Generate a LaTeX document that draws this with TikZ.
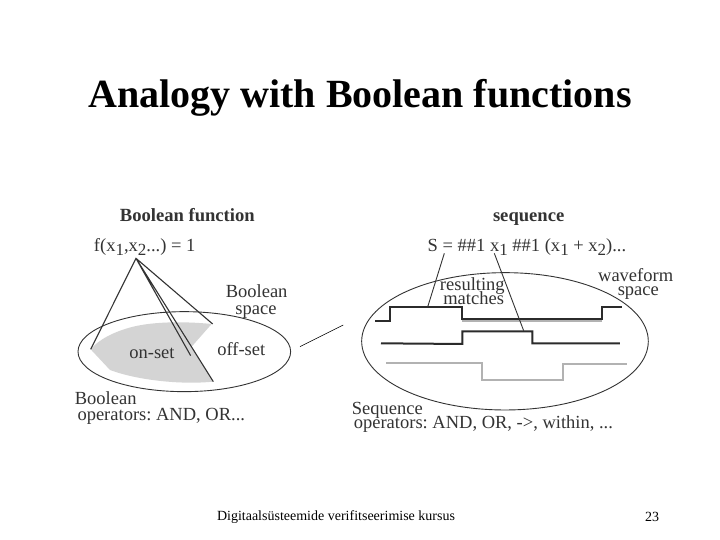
\documentclass[tikz,border=0pt]{standalone}
\usepackage{fontspec}
\setmainfont{Liberation Serif}
\definecolor{ink}{gray}{0.2}
\definecolor{setgrey}{gray}{0.83}
\definecolor{pale}{gray}{0.70}
\newcommand{\subsc}[1]{\raisebox{-4pt}{\fontsize{17}{17}\selectfont #1}}
\tikzset{
  dlabel/.style={inner sep=0pt,anchor=base,yshift=-1pt,text=ink,font=\frenchspacing\fontsize{18.5}{18.5}\selectfont},
  dleft/.style={dlabel,anchor=base west},
  dhead/.style={inner sep=0pt,anchor=base,text=ink,font=\bfseries\fontsize{18.6}{18.6}\selectfont},
  thinline/.style={draw=ink,line width=0.9pt},
  wave/.style={draw=ink!85!black,line width=2pt,line join=miter},
  palewave/.style={draw=pale,line width=2pt}
}
\begin{document}
\begin{tikzpicture}[x=1pt,y=-1pt]
\useasboundingbox (0,0) rectangle (720,540);
\fill[white] (0,0) rectangle (720,540);
\node[inner sep=0pt,anchor=base,font=\bfseries\fontsize{40}{40}\selectfont] (title) at (360,108) {Analogy with Boolean functions};

% left part (coordinates of the 3x crop at 60,200)
\begin{scope}[shift={(60,200)},x=0.3333pt,y=-0.3333pt]
\fill[setgrey] (92,448) .. controls (115,420) and (160,395) .. (220,380) .. controls (270,368) and (350,362) .. (455,372) -- (395,440) -- (460,545) .. controls (360,555) and (230,540) .. (150,510) -- cycle;
\draw[thinline] (373,455) ellipse [x radius=319,y radius=120];
\coordinate (apex) at (228,175);
\coordinate (a1) at (92,448);
\coordinate (a2) at (458,372);
\coordinate (a3) at (392,467);
\coordinate (a4) at (460,545);
\draw[thinline,line width=1.1pt] (a1) -- (apex) -- (a2) (apex) -- (a3) (apex) -- (a4);
\coordinate (s1) at (720,440);
\coordinate (s2) at (850,375);
\draw[draw=black,line width=0.5pt] (s1) -- (s2);
\node[dhead] (bf) at (382,65) {Boolean function};
\node[dlabel] (fx) at (254,153) {f(x\subsc{1},x\subsc{2}...) = 1};
\node[dlabel] (bs1) at (590,290) {Boolean};
\node[dlabel] (bs2) at (588,340) {space};
\node[dlabel] (on) at (276,473) {on-set};
\node[dlabel] (off) at (544,464) {off-set};
\node[dleft] (bo1) at (44,610) {Boolean};
\node[dleft] (bo2) at (52,660) {operators: AND, OR...};
\end{scope}

% right part (coordinates of the 3x crop at 345,200)
\begin{scope}[shift={(345,200)},x=0.3333pt,y=-0.3333pt]
\draw[thinline] (480,424) ellipse [x radius=430,y radius=206];
\draw[palewave] (350,362) -- (770,362);
\draw[wave] (90,363) -- (135,363) -- (135,321) -- (350,321) -- (350,357) -- (770,357) -- (770,321) -- (830,321);
\draw[wave] (108,430) -- (352,432) -- (352,394) -- (562,394) -- (562,430) -- (825,430);
\draw[palewave] (123,490) -- (411,490) -- (411,539) -- (655,539) -- (655,491) -- (845,491);
\coordinate (b1) at (298,160);
\coordinate (b2) at (248,321);
\coordinate (c1) at (448,160);
\coordinate (c2) at (536,392);
\draw[thinline] (b1) -- (b2) (c1) -- (c2);
\node[dhead] (sq) at (551,65) {sequence};
\node[dlabel] (seq) at (546,153) {S = \#\#1 x\subsc{1} \#\#1 (x\subsc{1} + x\subsc{2})...};
\node[dlabel] (r1) at (382,270) {resulting};
\node[dlabel] (r2) at (386,310) {matches};
\node[dlabel] (w1) at (872,243) {waveform};
\node[dlabel] (w2) at (880,285) {space};
\node[dleft] (so1) at (20,642) {Sequence};
\node[dleft] (so2) at (26,684) {operators: AND, OR, ->, within, ...};
\end{scope}

\node[inner sep=0pt,font=\fontsize{14}{14}\selectfont] (foot) at (336,517.5) {Digitaalsüsteemide verifitseerimise kursus};
\node[inner sep=0pt,font=\fontsize{14}{14}\selectfont] (num) at (652,516.5) {23};
\end{tikzpicture}
\end{document}
